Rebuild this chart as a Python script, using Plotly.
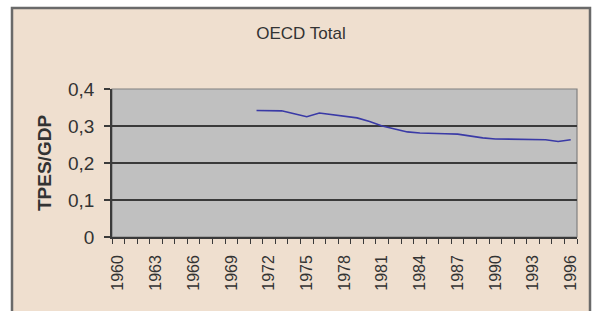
import plotly.graph_objects as go

years = list(range(1971, 1997))
tpes_gdp = [0.342, 0.342, 0.341, 0.333, 0.325, 0.335, 0.330, 0.325, 0.322, 0.312,
            0.300, 0.292, 0.284, 0.281, 0.281, 0.279, 0.278, 0.272, 0.268, 0.265,
            0.265, 0.264, 0.264, 0.263, 0.258, 0.263]
tick_years = list(range(1960, 1997, 3))
y_ticks = [0, 0.1, 0.2, 0.3, 0.4]
y_tick_text = ["0", "0,1", "0,2", "0,3", "0,4"]

W, H = 596, 311
L, R, T, B = 112, 577, 89, 237

def px(x):
    return (x - L) / (R - L)

def py(y):
    return (B - y) / (B - T)

fig = go.Figure()
fig.add_trace(go.Scatter(x=years, y=tpes_gdp, mode="lines",
                         line=dict(color="#3a3aa6", width=1.6),
                         hoverinfo="skip", showlegend=False))

fig.update_layout(
    width=W, height=H,
    margin=dict(l=L, r=W - R, t=T, b=H - B),
    paper_bgcolor="white",
    plot_bgcolor="rgba(0,0,0,0)",
    separators=", ",
    font=dict(family="Liberation Sans, Arial, sans-serif", color="#333333"),
    title=dict(text="OECD Total", x=301 / W, xanchor="center",
               y=1 - 33 / H, yanchor="middle",
               font=dict(size=17, color="#333333")),
    showlegend=False,
)

fig.update_xaxes(
    range=[1959.5, 1996.5],
    tickmode="array", tickvals=tick_years, ticktext=[str(y) for y in tick_years],
    tickangle=-90, ticks="", ticklabelstandoff=10,
    tickfont=dict(size=16, color="#333333"),
    showgrid=False, zeroline=False,
    showline=True, linecolor="#3a3a3a", linewidth=1.5,
    minor=dict(ticks="outside", tickmode="linear", tick0=1959.5, dtick=1,
               ticklen=5, tickcolor="#3a3a3a", tickwidth=1.3, showgrid=False),
)

fig.update_yaxes(
    range=[0, 0.4],
    tickmode="array", tickvals=y_ticks, ticktext=y_tick_text,
    ticks="outside", ticklen=6, tickcolor="#3a3a3a", tickwidth=1.5,
    ticklabelstandoff=6,
    tickfont=dict(size=19, color="#333333"),
    showgrid=True, gridcolor="#3a3a3a", gridwidth=1.5,
    zeroline=False,
    showline=True, linecolor="#3a3a3a", linewidth=1.5,
)

# outer chart frame (peach) and plot area (grey)
fig.add_shape(type="rect", xref="paper", yref="paper",
              x0=px(12), x1=px(590), y0=py(330), y1=py(8),
              fillcolor="#efdfcf", line=dict(color="#6a6a6a", width=2.5),
              layer="below")
fig.add_shape(type="rect", xref="paper", yref="paper",
              x0=0, x1=1, y0=0, y1=1,
              fillcolor="#c0c0c0", line=dict(color="#808080", width=1.2),
              layer="below")

fig.add_annotation(text="<b>TPES/GDP</b>", xref="paper", yref="paper",
                   x=px(44), y=py(163), xanchor="center", yanchor="middle",
                   textangle=-90, showarrow=False,
                   font=dict(size=19, color="#333333"))

fig.write_html("out.html", config={"displayModeBar": False},
               post_script="document.body.style.margin='0';document.body.style.overflow='hidden';")
